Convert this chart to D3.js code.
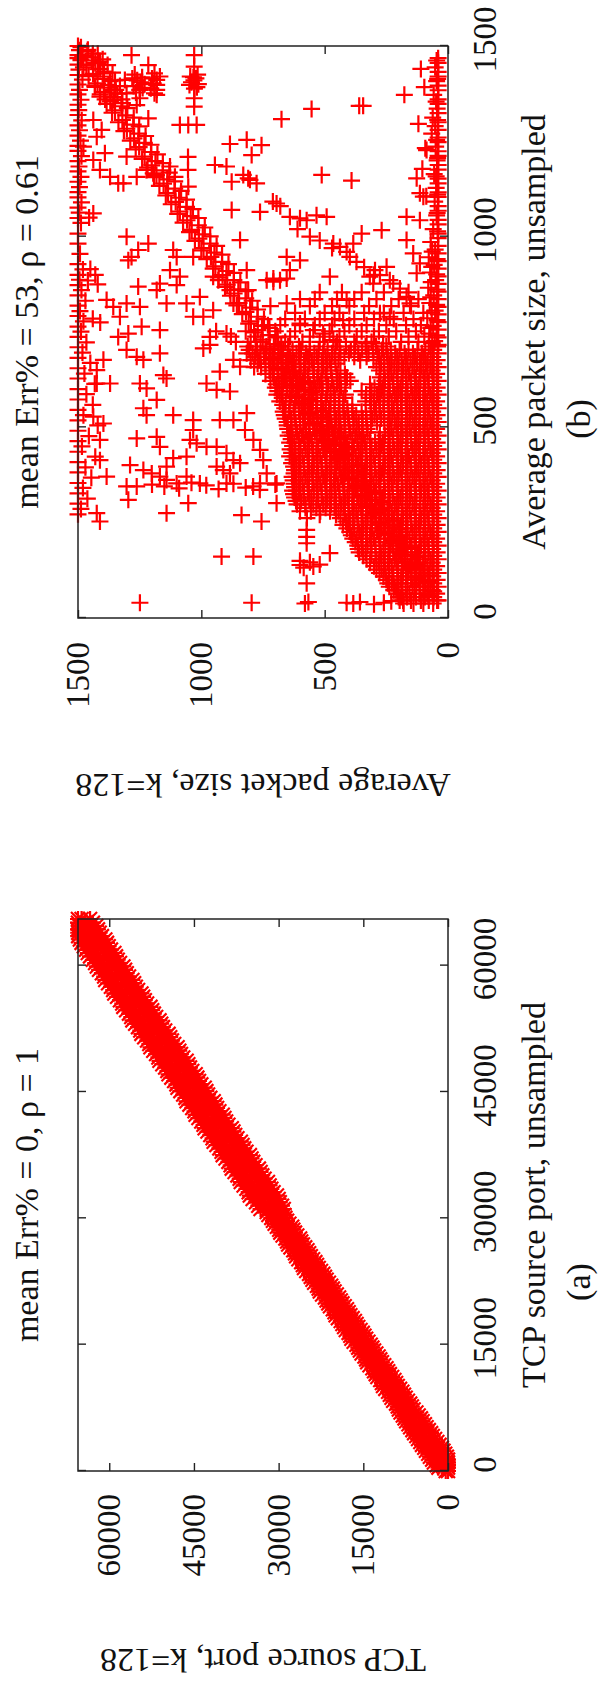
<!DOCTYPE html>
<html>
<head>
<meta charset="utf-8">
<script src="https://cdn.jsdelivr.net/npm/d3@7"></script>
<style>
  html, body { margin: 0; padding: 0; background: #fff; }
  svg { display: block; }
  text { font-family: "Liberation Serif", "Times New Roman", Times, serif; fill: #111; }
</style>
</head>
<body>
<svg id="fig" width="598" height="1687"></svg>
<script>
// ---------------------------------------------------------------------------
// Axis ranges, ticks and text
// ---------------------------------------------------------------------------
const portDomain = [0, 65535];
const sizeDomain = [0, 1500];
const portTicks = [0, 15000, 30000, 45000, 60000];
const sizeTicks = [0, 500, 1000, 1500];

const panelTitles = ["mean Err% = 0, \u03c1 = 1", "mean Err% = 53, \u03c1 = 0.61"];
const xLabels = ["TCP source port, unsampled", "Average packet size, unsampled"];
const yLabels = ["TCP source port, k=128", "Average packet size, k=128"];
const captions = ["(a)", "(b)"];

// ---------------------------------------------------------------------------
// (a) TCP source port: unsampled value, then the k=128 estimates seen for it
// ---------------------------------------------------------------------------
const portRows = [
  [65535, [63400, 64900, 65535]],
  [64700, [62300, 63800, 65300]],
  [63900, [61700, 63100, 64700, 65500]],
  [63100, [60700, 62400, 63800, 65200]],
  [62300, [60100, 61500, 63100, 64500]],
  [61500, [59100, 60800, 62200, 63800]],
  [60700, [58500, 59800, 61600, 62900]],
  [59900, [57500, 59100, 60500, 62200]],
  [59100, [56900, 58200, 59900, 61300]],
  [58300, [55900, 57600, 58900, 60700]],
  [57500, [55300, 56600, 58400, 59700]],
  [56700, [54300, 56000, 57300, 59100]],
  [55900, [53700, 55000, 56800, 58100]],
  [55100, [52700, 54400, 55700, 57500]],
  [54300, [52100, 53400, 55200, 56500]],
  [53500, [51100, 52800, 54100, 55900]],
  [52700, [50500, 51800, 53600, 54900]],
  [51900, [49500, 51200, 52500, 54300]],
  [51100, [48900, 50200, 52000, 53300]],
  [50300, [47900, 49600, 50900, 52700]],
  [49500, [47300, 48600, 50400, 51700]],
  [48700, [46300, 48000, 49300, 51100]],
  [47900, [45700, 47000, 48800, 50100]],
  [47100, [44700, 46400, 47700, 49500]],
  [46300, [44100, 45400, 47200, 48500]],
  [45500, [43100, 44800, 46100, 47900]],
  [44700, [42500, 43800, 45600, 46900]],
  [43900, [41500, 43200, 44500, 46300]],
  [43100, [40900, 42200, 44000, 45300]],
  [42300, [39900, 41600, 42900, 44700]],
  [41500, [39300, 40600, 42400, 43700]],
  [40700, [38300, 40000, 41300, 43100]],
  [39900, [37700, 39000, 40800, 42100]],
  [39100, [36700, 38400, 39700, 41500]],
  [38300, [36100, 37400, 39200, 40500]],
  [37500, [35100, 36800, 38100, 39900]],
  [36700, [34500, 35800, 37600, 38900]],
  [35900, [33500, 35200, 36500, 38300]],
  [35100, [32900, 34200, 36000, 37300]],
  [34300, [31900, 33600, 34900, 36700]],
  [33500, [31300, 32600, 34400, 35700]],
  [32700, [30300, 32000, 33300, 35100]],
  [31900, [29800, 31000, 32800, 34000]],
  [31100, [29100, 30400, 31900, 33200]],
  [30400, [29000, 30600, 31800]],
  [29700, [28500, 29600, 31000]],
  [29000, [27600, 29200, 30300]],
  [28300, [27100, 28400, 29700]],
  [27600, [26200, 27800, 28800]],
  [26900, [25700, 26800, 28300]],
  [26200, [24900, 26400, 27400]],
  [25500, [24300, 25600, 26900]],
  [24800, [23500, 25000, 26000]],
  [24100, [22900, 24000, 25500]],
  [23400, [22100, 23600, 24600]],
  [22700, [21500, 22800, 24000]],
  [22000, [20700, 22200, 23200]],
  [21300, [20100, 21200, 22700]],
  [20600, [19300, 20800, 21800]],
  [19900, [18700, 20000, 21200]],
  [19200, [17900, 19400, 20400]],
  [18500, [17300, 18400, 19900]],
  [17800, [16500, 18000, 19000]],
  [17100, [15900, 17200, 18400]],
  [16400, [15100, 16600, 17600]],
  [15700, [14500, 15600, 17100]],
  [15000, [13700, 15200, 16200]],
  [14300, [13100, 14400, 15600]],
  [13600, [12300, 13800, 14800]],
  [12900, [11700, 12800, 14300]],
  [12200, [10900, 12400, 13400]],
  [11500, [10300, 11600, 12800]],
  [10800, [9500, 11000, 12000]],
  [10100, [8900, 10000, 11500]],
  [9400, [8100, 9600, 10600]],
  [8700, [7500, 8800, 10000]],
  [8000, [6700, 8200, 9200]],
  [7300, [6100, 7200, 8700]],
  [6600, [5200, 6800, 8000]],
  [5900, [4500, 6000, 7400]],
  [5200, [3800, 5400, 6700]],
  [4500, [3000, 4600, 6000]],
  [3800, [2300, 3900, 5300]],
  [3100, [1500, 3200, 4600]],
  [2400, [800, 2500, 3900]],
  [1700, [200, 1800, 3200]],
  [1000, [0, 1200, 2500]],
  [400, [0, 700, 1700]],
  [0, [0, 400]],
  // ports between the rows above
  [65100, [62900, 64300, 65535]],
  [64300, [62000, 63500, 64900, 65535]],
  [63500, [61300, 62700, 64200, 65500]],
  [62700, [60400, 61900, 63400, 64900]],
  [61900, [59700, 61100, 62700, 64100]],
  [61100, [58800, 60300, 61900, 63400]],
  [60300, [58100, 59500, 61100, 62500]],
  [59500, [57200, 58700, 60300, 61800]],
  [58700, [56500, 57900, 59500, 60900]],
  [57900, [55600, 57100, 58700, 60200]],
  [57100, [54900, 56300, 57900, 59300]],
  [56300, [54000, 55500, 57100, 58600]],
  [55500, [53300, 54700, 56300, 57700]],
  [54700, [52400, 53900, 55500, 57000]],
  [53900, [51700, 53100, 54700, 56100]],
  [53100, [50800, 52300, 53900, 55400]],
  [52300, [50100, 51500, 53100, 54500]],
  [51500, [49200, 50700, 52300, 53800]],
  [50700, [48500, 49900, 51500, 52900]],
  [49900, [47600, 49100, 50700, 52200]],
  [49100, [46900, 48300, 49900, 51300]],
  [48300, [46000, 47500, 49100, 50600]],
  [47500, [45300, 46700, 48300, 49700]],
  [46700, [44400, 45900, 47500, 49000]],
  [45900, [43700, 45100, 46700, 48100]],
  [45100, [42800, 44300, 45900, 47400]],
  [44300, [42100, 43500, 45100, 46500]],
  [43500, [41200, 42700, 44300, 45800]],
  [42700, [40500, 41900, 43500, 44900]],
  [41900, [39600, 41100, 42700, 44200]],
  [41100, [38900, 40300, 41900, 43300]],
  [40300, [38000, 39500, 41100, 42600]],
  [39500, [37300, 38700, 40300, 41700]],
  [38700, [36400, 37900, 39500, 41000]],
  [37900, [35700, 37100, 38700, 40100]],
  [37100, [34800, 36300, 37900, 39400]],
  [36300, [34100, 35500, 37100, 38500]],
  [35500, [33200, 34700, 36300, 37800]],
  [34700, [32500, 33900, 35500, 36900]],
  [33900, [31600, 33100, 34700, 36200]],
  [33100, [30900, 32300, 33900, 35300]],
  [32300, [30000, 31500, 33100, 34600]],
  [31500, [29400, 30700, 32300, 33600]],
  [30750, [29500, 30900, 32100]],
  [30050, [28800, 30100, 31300]],
  [29350, [28100, 29500, 30700]],
  [28650, [27400, 28700, 29900]],
  [27950, [26700, 28100, 29300]],
  [27250, [26000, 27300, 28500]],
  [26550, [25300, 26700, 27900]],
  [25850, [24600, 25900, 27100]],
  [25150, [23900, 25300, 26500]],
  [24450, [23200, 24500, 25700]],
  [23750, [22500, 23900, 25100]],
  [23050, [21800, 23100, 24300]],
  [22350, [21100, 22500, 23700]],
  [21650, [20400, 21700, 22900]],
  [20950, [19700, 21100, 22300]],
  [20250, [19000, 20300, 21500]],
  [19550, [18300, 19700, 20900]],
  [18850, [17600, 18900, 20100]],
  [18150, [16900, 18300, 19500]],
  [17450, [16200, 17500, 18700]],
  [16750, [15500, 16900, 18100]],
  [16050, [14800, 16100, 17300]],
  [15350, [14100, 15500, 16700]],
  [14650, [13400, 14700, 15900]],
  [13950, [12700, 14100, 15300]],
  [13250, [12000, 13300, 14500]],
  [12550, [11300, 12700, 13900]],
  [11850, [10600, 11900, 13100]],
  [11150, [9900, 11300, 12500]],
  [10450, [9200, 10500, 11700]],
  [9750, [8500, 9900, 11100]],
  [9050, [7800, 9100, 10300]],
  [8350, [7100, 8500, 9700]],
  [7650, [6400, 7700, 8900]],
  [6950, [5600, 7100, 8400]],
  [6250, [4800, 6400, 7700]],
  [5550, [4100, 5700, 7000]],
  [4850, [3400, 5000, 6300]],
  [4150, [2700, 4300, 5600]],
  [3450, [1900, 3500, 4900]],
  [2750, [1100, 2800, 4200]],
  [2050, [500, 2100, 3500]],
  [1350, [0, 1500, 2800]],
  [700, [0, 900, 2000]]
];

// ---------------------------------------------------------------------------
// (b) Average packet size: [unsampled, k=128] pairs, grouped by region
// ---------------------------------------------------------------------------
const sizeDiagonal = [
  [1497,1488],[1486,1462],[1474,1481],[1462,1444],[1450,1466],[1439,1420],[1427,1439],[1414,1396],
  [1402,1421],[1391,1372],[1379,1395],[1366,1353],[1355,1369],[1342,1324],[1331,1350],[1318,1306],
  [1306,1320],[1294,1276],[1283,1302],[1270,1255],[1258,1273],[1246,1231],[1235,1252],[1222,1203],
  [1210,1230],[1198,1186],[1187,1201],[1174,1156],[1162,1182],[1150,1138],[1139,1153],[1126,1108],
  [1114,1135],[1102,1090],[1091,1104],[1078,1060],[1066,1087],[1054,1043],[1043,1058],[1030,1012],
  [1018,1039],[1006,994],[995,1010],[982,964],[970,991],[958,947],[947,961],[934,916],[922,943],
  [910,898],[899,914],[886,868],[874,895],[862,850],[851,867],[838,820],[826,847],[814,802],
  [803,819],[790,772],[778,799],[766,754],[755,771],[742,724],[730,751],[718,706],[707,723],
  [694,676],[682,703],[670,658],[659,675],[646,628],[634,655],[622,610],[611,627],[598,580],
  [586,607],[574,562],[563,579],[550,532],[538,559],[526,514],[515,531],[502,484],[490,511],
  [478,466],[467,483],[454,436],[442,463],[430,418],[419,435],[406,388],[394,415],[382,370],
  [371,387],[358,340],[346,367],[334,322],[323,339],[310,292],[298,319],[286,274],[275,291],
  [262,244],[250,271],[238,226],[227,243],[214,196],[202,223],[190,178],[179,195],[166,148],
  [154,175],[142,130],[131,147],[118,100],[106,127],[94,82],[83,99],[70,58],[58,79],[46,44]
];

const sizeDiagonalWide = [
  [1480,1440],[1468,1500],[1456,1418],[1444,1478],[1433,1395],[1421,1457],[1408,1370],[1396,1432],
  [1385,1347],[1373,1410],[1360,1322],[1348,1384],[1337,1300],[1325,1362],[1312,1274],[1300,1336],
  [1289,1252],[1277,1314],[1264,1226],[1252,1288],[1241,1204],[1229,1266],[1216,1178],[1204,1240],
  [1193,1156],[1181,1218],[1168,1130],[1156,1192],[1145,1108],[1133,1170],[1120,1082],[1108,1144],
  [1097,1060],[1085,1122],[1072,1034],[1060,1096],[1049,1012],[1037,1074],[1024,986],[1012,1048],
  [1001,964],[989,1026],[976,938],[964,1000],[953,916],[941,978],[928,890],[916,952],[905,868],
  [893,930],[880,842],[868,904],[857,820],[845,882],[832,794],[820,856],[809,772],[797,834],
  [784,746],[772,808],[761,724],[749,786],[736,698],[724,760],[713,676],[701,738],[688,650],
  [676,712],[665,628],[653,690],[640,602],[628,664],[617,580],[605,642],[592,554],[580,616],
  [569,532],[557,594],[544,506],[532,568],[521,484],[509,546],[496,458],[484,520],[473,436],
  [461,498],[448,410],[436,472],[425,388],[413,450],[400,362],[388,424],[377,340],[365,402],
  [352,314],[340,376],[329,292],[317,354],[304,266],[292,328],[281,244],[269,306],[256,218],
  [244,280],[233,196],[221,258],[208,170],[196,232],[185,148],[173,210],[160,122],[148,184],
  [137,100],[125,162],[112,74],[100,136]
];

const sizeCeiling = [
  [1500,1500],[1489,1494],[1476,1500],[1463,1488],[1451,1500],[1438,1496],[1424,1500],[1412,1482],
  [1399,1500],[1385,1494],[1373,1500],[1359,1488],[1346,1500],[1332,1497],[1319,1500],[1305,1485],
  [1292,1500],[1279,1494],[1265,1500],[1252,1490],[1238,1500],[1225,1500],[1211,1486],[1198,1500],
  [1184,1496],[1171,1500],[1157,1488],[1144,1500],[1130,1494],[1117,1500],[1103,1500],[1090,1486],
  [1076,1500],[1063,1495],[1049,1500],[1036,1488],[1008,1500],[982,1500],[955,1492],[928,1500],
  [914,1480],[900,1500],[887,1494],[873,1500],[860,1486],[846,1500],[832,1470],[819,1500],
  [805,1492],[792,1500],[778,1478],[764,1500],[751,1488],[737,1500],[723,1466],[710,1500],
  [696,1482],[682,1500],[669,1450],[655,1500],[641,1474],[628,1500],[614,1432],[600,1500],
  [587,1466],[573,1500],[559,1440],[546,1500],[532,1478],[518,1500],[505,1420],[491,1500],
  [477,1456],[464,1500],[450,1484],[436,1500],[423,1430],[409,1500],[395,1470],[382,1500],
  [368,1446],[354,1500],[341,1480],[327,1500],[313,1462],[300,1500],[286,1488],[272,1500]
];

const sizeFloor = [
  [1468,40],[1456,40],[1444,52],[1432,40],[1420,40],[1408,46],[1396,40],[1384,40],[1372,58],
  [1360,40],[1348,40],[1336,44],[1324,40],[1312,62],[1300,40],[1290,52],[1280,40],[1270,66],
  [1260,40],[1248,40],[1236,50],[1224,40],[1212,40],[1200,44],[1188,40],[1176,40],[1164,56],
  [1152,40],[1140,40],[1128,48],[1116,40],[1104,40],[1092,54],[1080,40],[1068,40],[1056,46],
  [1044,40],[1032,40],[1020,60],[1008,40],[996,40],[986,70],[976,40],[966,52],[956,40],
  [946,78],[936,40],[926,56],[916,40],[906,72],[896,40],[886,50],[876,40],[866,80],[856,40],
  [846,58],[836,40],[826,74],[816,40],[806,52],[796,40],[786,84],[776,40],[766,60],[756,40],
  [746,76],[736,40],[726,54],[716,40],
  [1440,110],[1392,96],[1296,120],[1232,92],[1178,104],[1106,88],
  [1462,46],[1414,42],[1354,48],[1306,42],[1254,46],[1206,42],[1158,48],[1110,42],[1062,44],
  [1014,42],[961,64],[941,44],[921,66],[901,46],[881,68],[861,44],[841,70],[821,46],[801,66],
  [781,44],[761,70],[741,46],[721,64]
];

const sizeSmallFlows = [
  [40,1249],[40,796],[38,580],[42,566],[40,411],[38,384],[42,357],[36,300],[40,260],[44,230]
];

// dense low-size region: unsampled size, then estimates observed for it
const sizeBulkRows = [
  [854, [160, 260, 350, 430, 520]],
  [836, [120, 200, 290, 380, 450, 540, 600]],
  [818, [150, 230, 320, 400, 470, 560, 720]],
  [800, [100, 180, 260, 340, 440, 500, 620]],
  [784, [140, 220, 300, 380, 460, 520, 580, 660]],
  [768, [110, 170, 250, 330, 400, 470, 540, 600, 680, 730]],
  [752, [130, 210, 280, 350, 420, 480, 620, 700, 820, 940]],
  [738, [96, 160, 240, 300, 370, 440, 500, 560, 640, 690, 780, 880]],
  [724, [120, 190, 310, 380, 450, 520, 590, 660, 800, 860]],
  [712, [42, 78, 250, 292, 334, 376, 414, 456, 504, 560, 604, 648, 688, 736, 778, 812]],
  [703, [58, 92, 124, 160, 196, 232, 268, 304, 348, 394, 440, 488, 524, 560, 596, 630, 668, 704, 740, 774, 806]],
  [694, [40, 70, 106, 142, 176, 214, 248, 286, 322, 364, 402, 436, 470, 506, 542, 576, 614, 648, 686, 720, 760, 792, 816]],
  [685, [62, 98, 134, 170, 206, 244, 280, 330, 380, 420, 460, 496, 532, 568, 604, 640, 674, 710, 746, 782]],
  [676, [44, 82, 114, 152, 188, 228, 260, 302, 356, 444, 480, 512, 552, 584, 624, 656, 692, 726, 766, 800]],
  [667, [58, 90, 126, 164, 200, 236, 272, 456, 490, 526, 562, 598, 634, 670, 706, 740, 772]],
  [658, [40, 72, 110, 144, 182, 218, 258, 290, 474, 506, 544, 578, 618, 648, 690, 720, 758, 786]],
  [649, [64, 100, 136, 172, 208, 244, 278, 436, 474, 510, 546, 584, 620, 656, 690, 724]],
  [640, [46, 84, 116, 158, 188, 230, 260, 418, 452, 496, 526, 568, 598, 642, 670, 710, 740]],
  [631, [58, 94, 130, 168, 204, 240, 274, 410, 448, 492, 530, 566, 602, 638, 674, 706]],
  [622, [40, 78, 112, 150, 184, 222, 256, 396, 440, 470, 514, 544, 588, 616, 658, 688, 720]],
  [613, [62, 98, 134, 170, 206, 242, 280, 316, 416, 450, 486, 522, 560, 596, 632, 668, 696]],
  [604, [44, 80, 120, 150, 192, 222, 264, 298, 434, 464, 508, 538, 580, 610, 652, 682, 700]],
  [595, [58, 92, 128, 164, 200, 236, 272, 310, 350, 440, 476, 512, 546, 584, 618, 654, 690]],
  [586, [40, 72, 114, 144, 186, 216, 258, 288, 332, 416, 460, 490, 532, 562, 604, 634, 674, 694]],
  [577, [64, 100, 136, 172, 208, 244, 280, 316, 424, 458, 494, 530, 566, 604, 638, 672]],
  [568, [46, 84, 118, 156, 190, 228, 262, 300, 334, 442, 476, 514, 548, 586, 620, 658, 682]],
  [559, [58, 94, 130, 166, 204, 240, 276, 312, 388, 424, 460, 496, 534, 568, 604, 642, 670]],
  [550, [40, 76, 114, 148, 188, 220, 260, 292, 408, 440, 482, 512, 554, 584, 626, 662]],
  [541, [62, 98, 134, 170, 206, 242, 278, 314, 350, 388, 424, 460, 496, 532, 568, 604, 644, 668]],
  [532, [44, 82, 116, 154, 188, 226, 260, 298, 332, 372, 406, 444, 478, 516, 550, 588, 622, 664]],
  [523, [58, 92, 128, 164, 200, 236, 272, 308, 346, 382, 418, 454, 490, 528, 562, 600, 636, 660]],
  [514, [40, 72, 114, 144, 186, 216, 258, 288, 330, 362, 402, 436, 474, 508, 546, 580, 618, 652]],
  [505, [64, 100, 136, 172, 208, 244, 312, 348, 384, 420, 456, 492, 530, 564, 600, 634, 652]],
  [496, [46, 84, 118, 156, 190, 230, 328, 370, 400, 442, 472, 514, 544, 586, 616, 650]],
  [487, [58, 94, 130, 166, 202, 238, 276, 326, 360, 396, 432, 468, 504, 540, 576, 612, 640]],
  [478, [40, 78, 112, 150, 184, 222, 256, 344, 376, 416, 448, 488, 520, 560, 592, 630, 648]],
  [469, [62, 98, 134, 170, 206, 242, 280, 316, 352, 388, 424, 460, 496, 532, 568, 604, 636]],
  [460, [44, 80, 120, 150, 192, 224, 264, 296, 336, 368, 408, 440, 480, 512, 552, 584, 622, 642]],
  [451, [58, 92, 128, 164, 200, 236, 272, 310, 346, 382, 418, 454, 490, 526, 562, 598, 630]],
  [442, [40, 72, 114, 144, 186, 218, 258, 290, 330, 362, 402, 434, 474, 506, 546, 578, 618, 640]],
  [433, [64, 100, 136, 172, 208, 244, 280, 316, 354, 390, 426, 462, 498, 534, 570, 606, 634]],
  [424, [46, 84, 118, 158, 190, 230, 262, 302, 334, 374, 406, 446, 478, 518, 550, 590, 620, 642]],
  [415, [58, 94, 130, 166, 202, 238, 276, 312, 348, 384, 420, 456, 492, 528, 564, 600, 628]],
  [406, [40, 78, 110, 150, 182, 224, 256, 296, 328, 368, 400, 440, 472, 512, 544, 584, 614, 634]],
  [397, [62, 98, 134, 170, 206, 244, 280, 316, 352, 388, 424, 460, 496, 532, 568, 604, 626]],
  [388, [44, 80, 120, 152, 192, 224, 264, 296, 336, 368, 408, 440, 480, 512, 552, 584, 622]],
  [379, [58, 92, 128, 164, 200, 236, 272, 310, 346, 382, 418, 454, 490, 526, 562, 598, 624]],
  [370, [40, 72, 112, 144, 186, 218, 258, 290, 330, 362, 402, 434, 474, 506, 546, 578, 616, 632]],
  [361, [64, 100, 136, 172, 208, 244, 280, 316, 352, 390, 426, 462, 498, 534, 570, 606, 628]],
  [352, [46, 84, 116, 156, 188, 228, 260, 302, 334, 374, 406, 446, 478, 518, 550, 590, 624]],
  [343, [58, 94, 130, 166, 202, 238, 274, 312, 348, 384, 420, 456, 492, 528, 564, 600, 622]],
  [334, [40, 78, 110, 150, 184, 224, 256, 296, 328, 368, 400, 440, 472, 512, 544, 584, 614, 630]],
  [325, [62, 98, 134, 170, 206, 242, 278, 314, 352, 388, 424, 460, 496, 532, 568, 604, 626]],
  [316, [44, 82, 114, 154, 192, 224, 264, 296, 336, 368, 408, 440, 480, 512, 554, 586, 622]],
  [307, [58, 92, 128, 164, 200, 236, 272, 308, 346, 382, 418, 454, 490, 526, 562, 596, 616]],
  [298, [40, 72, 112, 144, 184, 216, 258, 290, 330, 362, 402, 434, 474, 506, 546, 578, 612]],
  [289, [64, 100, 136, 172, 208, 244, 280, 316, 352, 388, 424, 460, 496, 534, 578]],
  [280, [46, 84, 116, 156, 188, 228, 260, 300, 332, 372, 404, 444, 478, 518, 556, 600]],
  [271, [58, 94, 130, 166, 202, 238, 274, 310, 346, 382, 418, 454, 520]],
  [262, [40, 78, 110, 150, 182, 222, 254, 294, 326, 366, 398, 436, 572]],
  [253, [62, 98, 134, 170, 206, 242, 278, 314, 350, 386, 414]],
  [244, [44, 80, 118, 150, 190, 222, 262, 294, 334, 366, 404, 426]],
  [235, [58, 92, 128, 164, 200, 236, 272, 308, 344, 380, 410]],
  [226, [40, 72, 112, 144, 184, 216, 256, 288, 328, 360, 398]],
  [217, [64, 100, 136, 172, 208, 244, 280, 316, 352, 392]],
  [208, [46, 84, 116, 156, 188, 228, 260, 300, 332, 370, 386]],
  [199, [58, 94, 130, 166, 202, 238, 274, 310, 346, 376]],
  [190, [40, 78, 110, 150, 182, 222, 254, 294, 326, 366]],
  [181, [62, 98, 134, 170, 206, 242, 278, 314, 350, 364]],
  [172, [44, 80, 118, 150, 190, 222, 262, 294, 334, 360]],
  [163, [58, 92, 128, 164, 200, 236, 272, 310, 344]],
  [154, [40, 72, 112, 144, 184, 216, 256, 290, 330]],
  [145, [64, 100, 136, 172, 208, 244, 280, 316]],
  [136, [46, 84, 116, 156, 188, 228, 260, 300]],
  [127, [58, 94, 130, 166, 202, 238, 270, 290]],
  [118, [40, 78, 110, 150, 182, 222, 254, 278]],
  [109, [62, 98, 134, 170, 206, 240, 262]],
  [100, [44, 80, 118, 150, 190, 222, 250]],
  [91, [58, 92, 128, 164, 200, 228, 244]],
  [82, [40, 72, 112, 144, 184, 216, 238]],
  [73, [64, 100, 136, 172, 210, 220]],
  [64, [46, 84, 116, 156, 188, 204]],
  [55, [58, 94, 130, 166, 190, 200]],
  [46, [40, 78, 110, 150, 182, 196]],
  [38, [60, 100, 140, 180]]
];

const sizeScatter = [
  // large flows, estimate above the diagonal
  [1476,1283],[1450,1215],[1420,1168],[1411,1181],[1398,1181],[1385,1181],[1372,1181],[1411,1310],
  [1376,1303],[1363,1249],[1345,1262],[1310,1215],[1459,1411],[1428,1397],[1398,1377],[1393,1431],
  [1367,1411],[1358,1357],[1306,1438],[1280,1404],[1262,1424],[1236,1478],[1201,1438],[1175,1411],
  [1157,1370],[1140,1337],[1140,1316],[1219,1391],[1210,1303],[1157,1262],[1175,1222],[1166,1195],
  [1184,1127],[1157,1107],[1131,1053],[1490,1460],[1480,1420],[1470,1440],[1465,1400],[1455,1430],
  [1450,1380],[1440,1410],[1430,1360],[1420,1395],[1410,1350],[1395,1330],[1385,1365],[1375,1340],
  [1360,1390],[1350,1320],[1428,1190],[1415,1200],[1402,1195],[1389,1205],[1376,1190],
  [1476,1029],[1446,1029],[1363,1029],[1341,1029],[1293,1087],[1293,1053],[1293,1019],
  [1209,1054],[1175,1054],[1061,1438],[1050,1455],
  // middle band
  [1000,1303],[982,1215],[947,1283],[938,1296],[965,1256],[965,1114],[947,1100],[947,1033],
  [912,1127],[895,1087],[873,1100],[869,1256],[877,1168],[860,1181],[834,1384],[816,1357],
  [825,1303],[816,1249],[790,1330],[764,1242],[755,1168],[746,1296],[737,1337],[825,1141],
  [825,1060],[842,1006],[790,992],[790,1033],[807,952],[895,952],[886,931],[737,965],[746,898],
  [825,870],[912,816],[991,843],[1070,877],[890,708],[886,681],[890,654],[947,654],[912,641],
  [938,600],[825,654],[772,600],[755,546],[746,506],[729,465],[781,425],[834,411],[877,303],
  [842,168],[825,154],[904,127],[930,114],[1105,100],[1052,168],[1043,114],[991,168],[956,141],
  [799,276],[790,236],[720,330],[720,263],[895,479],[860,884],[860,810],[886,735],[882,708],
  [915,1450],[900,1430],[885,1460],[875,1420],[785,1440],[775,1410],
  [1162,512],[1147,391],[1153,127],[1114,114],[1227,87],[1372,177],
  // smaller flows, estimate above the diagonal
  [677,1397],[650,1424],[615,1424],[615,1370],[703,1303],[685,1262],[677,1235],[694,1168],
  [615,1249],[602,1222],[637,1154],[628,1141],[572,1181],[550,1235],[532,1222],[510,1397],
  [467,1411],[528,1438],[471,1262],[475,1181],[449,1168],[532,1114],[519,1033],[493,1033],
  [467,1046],[458,1019],[423,1060],[419,1114],[397,1141],[401,1289],[388,1235],[379,1201],
  [371,1168],[362,1141],[353,1100],[371,1060],[615,979],[598,938],[594,884],[519,925],[519,870],
  [537,816],[449,979],[449,938],[432,898],[414,870],[406,843],[493,823],[467,789],[441,762],
  [414,749],[379,735],[397,938],[388,911],[379,884],[353,762],[353,695],[353,898],[353,1006],
  [345,1303],[345,1262],[414,1411],[371,1384],[707,992],[716,965],[677,870],[659,843],[646,925],
  [310,1296],[275,1141],[301,1053],[275,1424],[253,1411],[270,837],[253,756],[301,695],
  [161,918],[161,789],[170,479],[139,600],[135,546],[91,573],[231,573],[213,573],[196,573],
  [150,600],[146,560],[140,520],[132,585],[345,790],[336,763],
  [350,1200],[345,1150],[340,1090],[355,1040],[348,980],[338,930],[352,870],[342,820],[350,700]
];

const sizeSecondLine = [
  [1308,675],[1335,553],[1343,360],[1343,344],[1243,884],[1254,816],[1240,756],[1214,796],
  [1188,945],[1184,898],[1162,830],[1149,803],[1140,776],[1153,810],[1144,877],[1087,695],
  [1080,680],[1092,710],[1065,762],[1052,641],[1048,600],[1043,573],[1056,533],[1052,492],
  [1020,610],[1000,560],[990,520],[982,465],[973,438],[970,470],[960,411],[947,398],[934,371],
  [982,384],[1008,350],[1017,269],[920,340],[900,300],[895,317],[899,276],[912,296],[921,249],
  [886,236],[877,222],[864,195]
];

const sizeBlocks = [
  [1425,1015],[1420,1045],[1410,1030],[1400,1012],[1398,1048],[1388,1028],[1415,1022],[1405,1040],
  [1392,1018],[1418,1032],
  [1425,1270],[1418,1240],[1410,1260],[1400,1230],[1395,1275],[1385,1250],[1378,1265],[1405,1245],
  [1390,1238],[1415,1280]
];

// ---------------------------------------------------------------------------
// Drawing
// ---------------------------------------------------------------------------
const FIG_W = 1687;               // figure is laid out landscape, then turned
const svg = d3.select("#fig");
const root = svg.append("g").attr("transform", `translate(0,${FIG_W}) rotate(-90)`);

const portPoints = portRows.flatMap(([u, ests]) => ests.map(e => [u, e]));
const sizePoints = [].concat(
  sizeBulkRows.flatMap(([u, ests]) => ests.map(e => [u, e])),
  sizeFloor, sizeCeiling, sizeSmallFlows, sizeScatter, sizeSecondLine, sizeBlocks,
  sizeDiagonalWide, sizeDiagonal
);

const starPath = "M-8,0H8M0,-8V8M-7,-7L7,7M-7,7L7,-7";
const plusPath = "M-8.5,0H8.5M0,-8.5V8.5";

const panels = [
  { left: 216, right: 768, top: 78, bottom: 448, xDomain: portDomain, yDomain: portDomain,
    ticks: portTicks, points: portPoints, marker: starPath, markerWidth: 2.2,
    yPad: 23, yLabelX: 38, idx: 0 },
  { left: 1069, right: 1641, top: 78, bottom: 448, xDomain: sizeDomain, yDomain: sizeDomain,
    ticks: sizeTicks, points: sizePoints, marker: plusPath, markerWidth: 2.2,
    yPad: 24, yLabelX: 913, idx: 1 }
];

const fmt = d3.format("d");

function styleAxis(sel, withText) {
  sel.select(".domain").remove();
  sel.selectAll(".tick line").attr("stroke", "#222").attr("stroke-width", 1.4);
  if (withText) {
    sel.selectAll(".tick text")
      .attr("fill", "#111")
      .style("font-size", "33px")
      .style("font-family", '"Liberation Serif", "Times New Roman", serif');
  } else {
    sel.selectAll(".tick text").remove();
  }
}

panels.forEach(p => {
  const g = root.append("g");
  const x = d3.scaleLinear().domain(p.xDomain).range([p.left, p.right]);
  const y = d3.scaleLinear().domain(p.yDomain).range([p.bottom, p.top]);
  const cx = (p.left + p.right) / 2;
  const cy = (p.top + p.bottom) / 2;

  // scatter marks
  g.append("g")
    .attr("fill", "none")
    .attr("stroke", "#ff0000")
    .attr("stroke-width", p.markerWidth)
    .selectAll("path")
    .data(p.points)
    .join("path")
    .attr("d", p.marker)
    .attr("transform", d => `translate(${x(d[0]).toFixed(2)},${y(d[1]).toFixed(2)})`);

  // frame
  g.append("rect")
    .attr("x", p.left).attr("y", p.top)
    .attr("width", p.right - p.left).attr("height", p.bottom - p.top)
    .attr("fill", "none").attr("stroke", "#222").attr("stroke-width", 1.5);

  // inward ticks on all four sides, labels bottom and left
  g.append("g").attr("transform", `translate(0,${p.bottom})`)
    .call(d3.axisBottom(x).tickValues(p.ticks).tickSize(-8).tickPadding(24.6).tickFormat(fmt))
    .call(s => styleAxis(s, true))
    .call(s => s.selectAll(".tick text").attr("dx", 6));
  g.append("g").attr("transform", `translate(0,${p.top})`)
    .call(d3.axisTop(x).tickValues(p.ticks).tickSize(-8))
    .call(s => styleAxis(s, false));
  g.append("g").attr("transform", `translate(${p.left},0)`)
    .call(d3.axisLeft(y).tickValues(p.ticks).tickSize(-8).tickPadding(p.yPad).tickFormat(fmt))
    .call(s => styleAxis(s, true));
  g.append("g").attr("transform", `translate(${p.right},0)`)
    .call(d3.axisRight(y).tickValues(p.ticks).tickSize(-8))
    .call(s => styleAxis(s, false));

  // texts
  g.append("text").attr("x", cx).attr("y", 38).attr("text-anchor", "middle")
    .style("font-size", "34px").text(panelTitles[p.idx]);
  g.append("text").attr("x", cx).attr("y", 545).attr("text-anchor", "middle")
    .style("font-size", "34px").text(xLabels[p.idx]);
  g.append("text").attr("x", cx - 87).attr("y", 590).attr("text-anchor", "middle")
    .style("font-size", "34px").text(captions[p.idx]);
  g.append("text")
    .attr("transform", `translate(${p.yLabelX},${cy}) rotate(-90)`)
    .attr("text-anchor", "middle")
    .style("font-size", "34px").text(yLabels[p.idx]);
});
</script>
</body>
</html>
